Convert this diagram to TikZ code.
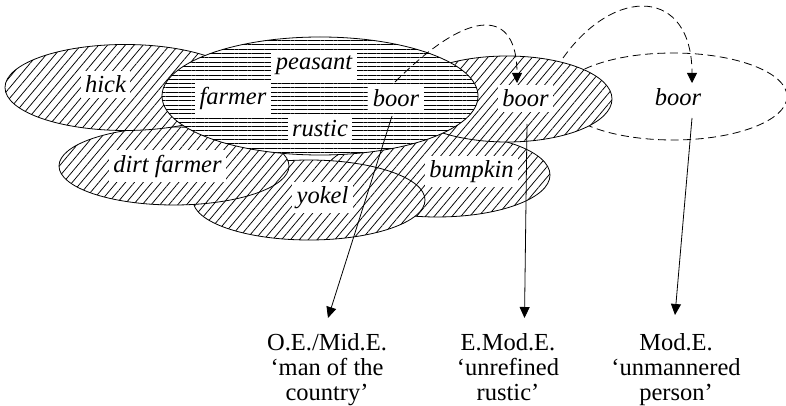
\documentclass[tikz,border=0pt]{standalone}
\usepackage{fontspec}
\setmainfont{Liberation Serif}
\usetikzlibrary{arrows.meta,patterns.meta,shapes.geometric}
\begin{document}
\begin{tikzpicture}[x=1pt,y=-1pt,
  ell/.style={ellipse, inner sep=0pt, line width=0.8pt},
  hatchE/.style={ell, draw=black, preaction={fill=white},
    pattern={Lines[angle=50,distance=6.8pt,line width=0.75pt]}},
  lineE/.style={ell, draw=black, preaction={fill=white},
    pattern={Lines[angle=0,distance=4.3pt,line width=0.6pt]}},
  dashE/.style={ell, draw=black, dash pattern=on 8pt off 4.5pt},
  lab/.style={fill=white, inner sep=4.5pt, anchor=base,
    font=\fontsize{24.5}{26}\selectfont\itshape},
  gloss/.style={align=center, inner sep=0pt, anchor=north,
    font=\fontsize{24.5}{25}\selectfont},
  arr/.style={line width=0.8pt, -{Triangle[width=10pt,length=11pt]}},
  darr/.style={line width=0.8pt, dash pattern=on 8pt off 4.5pt,
    -{Triangle[width=10pt,length=10pt]}}
]
\useasboundingbox (0,0) rectangle (786,406);

% ellipses (back to front)
\node[dashE, minimum width=228pt, minimum height=87pt] (eDash) at (673,96.5) {};
\node[hatchE, minimum width=226pt, minimum height=84pt] (eBump) at (437,175) {};
\node[hatchE, minimum width=232pt, minimum height=80pt] (eYokel) at (309,200) {};
\node[hatchE, minimum width=230pt, minimum height=78pt] (eDirt) at (174,166) {};
\node[hatchE, minimum width=240pt, minimum height=86pt] (eHick) at (125,87.5) {};
\node[hatchE, minimum width=210pt, minimum height=86pt] (eBoor) at (507,99) {};
\node[lineE, minimum width=316pt, minimum height=118pt] (eCenter) at (320,96) {};

% labels
\node[lab] (hick) at (105.5,93) {hick};
\node[lab] (peasant) at (314,70) {peasant};
\node[lab] (farmer) at (233,105) {farmer};
\node[lab] (boorA) at (396,107) {boor};
\node[lab] (rustic) at (320,137) {rustic};
\node[lab] (boorB) at (525.5,107) {boor};
\node[lab] (boorC) at (678,106) {boor};
\node[lab] (dirt) at (167.5,172) {dirt farmer};
\node[lab] (yokel) at (322.5,203) {yokel};
\node[lab] (bumpkin) at (471.5,177) {bumpkin};

% glosses
\node[gloss] (oe) at (327,333) {O.E./Mid.E.\\‘man of the\\country’};
\node[gloss] (emod) at (508,333) {E.Mod.E.\\‘unrefined\\rustic’};
\node[gloss] (mod) at (676,333) {Mod.E.\\‘unmannered\\person’};

% connector end points
\coordinate (a1s) at (392,116);
\coordinate (a1e) at (328,318);
\coordinate (a2s) at (527,124);
\coordinate (a2e) at (524.5,318);
\coordinate (a3s) at (692,118);
\coordinate (a3e) at (675,315);
\coordinate (d1s) at (395,82);
\coordinate (d1e) at (517,83);
\coordinate (d2s) at (563,58);
\coordinate (d2e) at (692,83);

\draw[arr] (a1s) -- (a1e);
\draw[arr] (a2s) -- (a2e);
\draw[arr] (a3s) -- (a3e);
\draw[darr] (d1s) .. controls (472,5) and (517,10) .. (d1e);
\draw[darr] (d2s) .. controls (615,-15) and (692,-12) .. (d2e);
\end{tikzpicture}
\end{document}
